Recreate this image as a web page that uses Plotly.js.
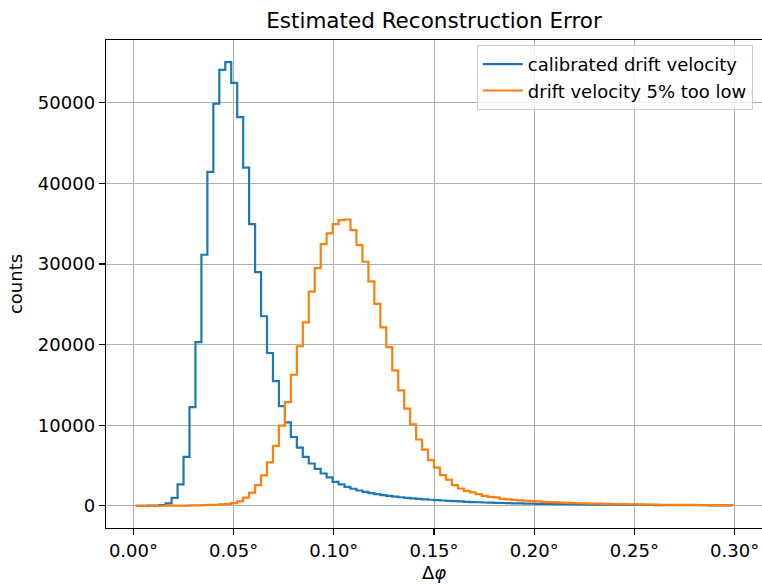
<!DOCTYPE html>
<html>
<head>
<meta charset="utf-8">
<script src="https://cdn.plot.ly/plotly-3.0.1.min.js"></script>
<style>html,body{margin:0;padding:0;background:#fff;}#chart{width:762px;height:584px;}</style>
</head>
<body>
<div id="chart"></div>
<script>
// Histogram bin range (degrees) and counts per bin (100 bins)
const binStart = 0.0012;
const binEnd = 0.2988;
const seriesNames = ["calibrated drift velocity", "drift velocity 5% too low"];
const calibratedCounts = [
  0, 5, 15, 30, 80, 300, 990, 2650, 6060, 12250,
  20300, 31150, 41420, 49880, 54080, 55040, 52480, 48230, 41950, 34950,
  28990, 23520, 18960, 15470, 12380, 10360, 8540, 7230, 6060, 5250,
  4580, 4010, 3520, 2970, 2650, 2350, 2120, 1900, 1730, 1570,
  1450, 1330, 1230, 1140, 1060, 990, 920, 860, 800, 750,
  700, 660, 610, 570, 540, 500, 470, 440, 410, 390,
  370, 350, 330, 310, 295, 280, 265, 250, 240, 228,
  216, 205, 195, 185, 176, 168, 160, 152, 145, 138,
  132, 126, 120, 115, 110, 105, 100, 96, 92, 88,
  85, 81, 78, 75, 72, 70, 67, 65, 62, 60
];
const lowVelocityCounts = [
  0, 0, 2, 5, 8, 12, 18, 25, 35, 45,
  60, 80, 105, 135, 180, 250, 330, 550, 1010, 1630,
  2560, 3780, 5400, 7430, 9950, 12870, 16260, 19800, 22770, 26570,
  29500, 32470, 33790, 34950, 35450, 35520, 34210, 32350, 30280, 27850,
  25050, 22150, 19680, 16800, 14320, 12050, 10100, 8230, 6980, 5660,
  4750, 3800, 3260, 2560, 2150, 1860, 1660, 1450, 1240, 1110,
  1040, 870, 800, 740, 680, 630, 580, 540, 500, 460,
  430, 400, 370, 345, 320, 300, 280, 262, 245, 230,
  215, 200, 190, 178, 168, 158, 150, 142, 135, 128,
  121, 115, 110, 105, 100, 95, 91, 87, 83, 80
];
const xTickVals = [0, 0.05, 0.10, 0.15, 0.20, 0.25, 0.30];
const xTickText = ["0.00°", "0.05°", "0.10°", "0.15°", "0.20°", "0.25°", "0.30°"];
const yTickVals = [0, 10000, 20000, 30000, 40000, 50000];
const yTickText = ["0", "10000", "20000", "30000", "40000", "50000"];

function stepXY(counts) {
  const n = counts.length;
  const w = (binEnd - binStart) / n;
  const xs = [binStart], ys = [0];
  for (let i = 0; i < n; i++) { xs.push(binStart + i * w); ys.push(counts[i]); }
  xs.push(binEnd); ys.push(counts[n - 1]);
  xs.push(binEnd); ys.push(0);
  return {xs, ys};
}

const colors = ["#1f77b4", "#ff7f0e"];
const allCounts = [calibratedCounts, lowVelocityCounts];
const traces = allCounts.map((c, k) => {
  const s = stepXY(c);
  return {
    x: s.xs, y: s.ys, type: "scatter", mode: "lines",
    line: {shape: "hv", color: colors[k], width: 2.2},
    name: seriesNames[k]
  };
});

const xPad = 0.05 * (binEnd - binStart);
const yMax = Math.max(...calibratedCounts, ...lowVelocityCounts);
const yPad = 0.05 * yMax;
const font = {family: "DejaVu Sans, sans-serif", size: 18, color: "#000"};

const layout = {
  width: 762, height: 584,
  margin: {l: 106, r: 0, t: 40, b: 56, pad: 0},
  paper_bgcolor: "#fff", plot_bgcolor: "#fff",
  font: font,
  showlegend: true,
  title: {text: "Estimated Reconstruction Error", font: {family: "DejaVu Sans, sans-serif", size: 21.5, color: "#000"},
          x: 0.5, xref: "paper", xanchor: "center", y: 0.965, yref: "container", yanchor: "middle"},
  xaxis: {
    range: [binStart - xPad, binEnd + xPad],
    tickmode: "array", tickvals: xTickVals, ticktext: xTickText,
    ticks: "outside", ticklen: 6, tickwidth: 1.2, tickcolor: "#000",
    showgrid: true, gridcolor: "#b0b0b0", gridwidth: 1,
    zeroline: false, showline: true, linecolor: "#000", linewidth: 1.3, mirror: true,
    tickfont: font,
    title: {text: "Δ<i>φ</i>", font: font, standoff: 6}
  },
  yaxis: {
    range: [-yPad, yMax + yPad],
    tickmode: "array", tickvals: yTickVals, ticktext: yTickText,
    ticks: "outside", ticklen: 6, tickwidth: 1.2, tickcolor: "#000",
    showgrid: true, gridcolor: "#b0b0b0", gridwidth: 1,
    zeroline: false, showline: true, linecolor: "#000", linewidth: 1.3, mirror: false,
    tickfont: font,
    title: {text: "counts", font: font, standoff: 10}
  },
  legend: {
    x: 0.986, y: 0.99, xanchor: "right", yanchor: "top",
    bgcolor: "rgba(255,255,255,0.8)", bordercolor: "#cccccc", borderwidth: 1,
    font: font, tracegroupgap: 0, itemwidth: 40
  }
};

Plotly.newPlot("chart", traces, layout, {staticPlot: true, displayModeBar: false});
</script>
</body>
</html>
